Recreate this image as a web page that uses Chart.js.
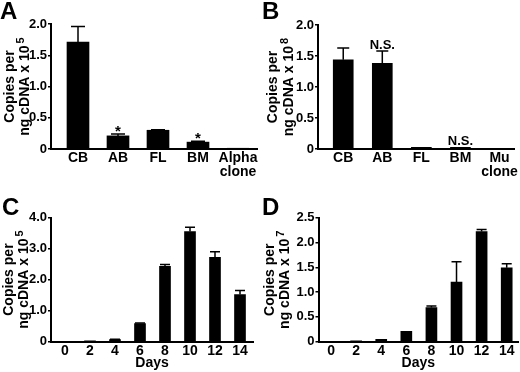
<!DOCTYPE html>
<html>
<head>
<meta charset="utf-8">
<script src="https://cdn.jsdelivr.net/npm/chart.js@4/dist/chart.umd.min.js"></script>
<style>
  body { margin: 0; background: #fff; }
  #wrap { position: relative; width: 520px; height: 372px; overflow: hidden; }
  canvas { position: absolute; }
  .tag { position: absolute; font: bold 24px "Liberation Sans", Arial, sans-serif; line-height: 24px; color: #000; }
</style>
</head>
<body>
<div id="wrap">
  <canvas id="chartA" width="260" height="186" style="left:0;top:0"></canvas>
  <canvas id="chartB" width="260" height="186" style="left:260px;top:0"></canvas>
  <canvas id="chartC" width="260" height="186" style="left:0;top:186px"></canvas>
  <canvas id="chartD" width="260" height="186" style="left:260px;top:186px"></canvas>
  <div class="tag" style="left:0;top:-1px">A</div>
  <div class="tag" style="left:262px;top:-1px">B</div>
  <div class="tag" style="left:2px;top:195px">C</div>
  <div class="tag" style="left:262px;top:195px">D</div>
</div>
<script>
// A: alpha copies by tissue
const tissueA = ["CB", "AB", "FL", "BM", ["Alpha", "clone"]];
const copiesA = [1.71, 0.21, 0.30, 0.11, 0.01];
const errTopA = [1.96, 0.24, 0.31, 0.125, 0];
const marksA = ["", "*", "", "*", ""];

// B: mu copies by tissue
const tissueB = ["CB", "AB", "FL", "BM", ["Mu", "clone"]];
const copiesB = [1.44, 1.38, 0.025, 0.025, 0];
const errTopB = [1.63, 1.58, 0, 0, 0];
const marksB = ["", "N.S.", "", "N.S.", ""];

// C, D: time course
const days = ["0", "2", "4", "6", "8", "10", "12", "14"];
const copiesC = [0, 0.02, 0.07, 0.58, 2.43, 3.55, 2.72, 1.52];
const errTopC = [0, 0, 0.08, 0.6, 2.49, 3.69, 2.9, 1.65];
const copiesD = [0, 0.015, 0.05, 0.21, 0.69, 1.2, 2.22, 1.49];
const errTopD = [0, 0, 0, 0, 0.72, 1.61, 2.26, 1.57];
const noMarks = ["", "", "", "", "", "", "", ""];

const yTicksAB = [0, 0.5, 1, 1.5, 2];
const yTicksC = [0, 1, 2, 3, 4];
const yTicksD = [0, 0.5, 1, 1.5, 2, 2.5];

const FONT = "'Liberation Sans', Arial, sans-serif";
Chart.defaults.font.family = FONT;
Chart.defaults.font.weight = "bold";
Chart.defaults.color = "#000";

// upper error bars + significance marks
const errorBars = {
  id: "errorBars",
  afterDatasetsDraw(chart, args, opts) {
    const { ctx, scales: { x, y } } = chart;
    ctx.save();
    ctx.strokeStyle = "#000";
    ctx.lineWidth = 1.5;
    opts.errs.forEach((e, i) => {
      const v = opts.values[i];
      if (e > v) {
        const px = x.getPixelForValue(i);
        const y0 = y.getPixelForValue(v);
        const y1 = y.getPixelForValue(e);
        ctx.beginPath();
        ctx.moveTo(px, y0);
        ctx.lineTo(px, y1);
        ctx.moveTo(px - opts.capW / 2, y1);
        ctx.lineTo(px + opts.capW / 2, y1);
        ctx.stroke();
      }
    });
    ctx.fillStyle = "#000";
    ctx.textAlign = "center";
    ctx.textBaseline = "alphabetic";
    opts.marks.forEach((m, i) => {
      if (!m) return;
      const px = x.getPixelForValue(i);
      const top = y.getPixelForValue(Math.max(opts.errs[i], opts.values[i]));
      if (m === "*") {
        ctx.font = "bold 15px " + FONT;
        ctx.fillText(m, px, top + 1.5);
      } else {
        ctx.font = "bold 13px " + FONT;
        ctx.fillText(m, px, top - 2.5);
      }
    });
    ctx.restore();
  },
};

// two-line rotated y title with a real superscript
const yTitle = {
  id: "yTitle",
  afterDraw(chart, args, o) {
    const { ctx, chartArea } = chart;
    const cy = (chartArea.top + chartArea.bottom) / 2;
    const base = "bold 14px " + FONT;
    const sup = "bold 11px " + FONT;
    ctx.save();
    ctx.fillStyle = "#000";
    ctx.textBaseline = "middle";
    ctx.font = base;
    ctx.save();
    ctx.translate(o.x1, cy);
    ctx.rotate(-Math.PI / 2);
    ctx.textAlign = "center";
    ctx.fillText(o.line1, 0, 0);
    ctx.restore();
    ctx.translate(o.x2, cy);
    ctx.rotate(-Math.PI / 2);
    ctx.textAlign = "left";
    const w1 = ctx.measureText(o.line2).width;
    ctx.font = sup;
    const w2 = ctx.measureText(o.exp).width;
    const start = -(w1 + 2 + w2) / 2;
    ctx.font = base;
    ctx.fillText(o.line2, start, 0);
    ctx.font = sup;
    ctx.fillText(o.exp, start + w1 + 2, -4.5);
    ctx.restore();
  },
};

function fmt(v) {
  return v === 0 ? "0" : v.toFixed(1);
}

function makePanel(id, p) {
  new Chart(document.getElementById(id), {
    type: "bar",
    data: {
      datasets: [
        {
          data: p.values.map((v, i) => ({ x: i, y: v })),
          backgroundColor: "#000",
          borderWidth: 0,
          barThickness: p.barW,
        },
      ],
    },
    options: {
      responsive: false,
      animation: false,
      devicePixelRatio: 1,
      layout: { padding: { left: 0, top: p.area.top, right: 260 - p.area.right, bottom: 0 } },
      plugins: {
        legend: { display: false },
        tooltip: { enabled: false },
        errorBars: { values: p.values, errs: p.errs, marks: p.marks, capW: p.capW },
        yTitle: { line1: "Copies per", line2: "ng cDNA x 10", exp: p.exp, x1: p.titleX[0], x2: p.titleX[1] },
      },
      scales: {
        x: {
          type: "linear",
          offset: false,
          min: p.xMin,
          max: p.xMax,
          afterBuildTicks: (s) => { s.ticks = p.labels.map((_, i) => ({ value: i })); },
          afterFit: (s) => { s.height = 186 - p.area.bottom; },
          ticks: {
            autoSkip: false,
            maxRotation: 0,
            padding: 2,
            font: { size: 14, weight: "bold", lineHeight: 1.0 },
            callback: (v) => p.labels[Math.round(v)],
          },
          grid: { display: false, drawTicks: false },
          border: { color: "#000", width: 2 },
          title: {
            display: !!p.xTitle,
            text: p.xTitle,
            font: { size: 14, weight: "bold", lineHeight: 1.2 },
            padding: { top: 0, bottom: 0 },
          },
        },
        y: {
          min: 0,
          max: p.yTicks[p.yTicks.length - 1],
          afterBuildTicks: (s) => { s.ticks = p.yTicks.map((v) => ({ value: v })); },
          afterFit: (s) => { s.width = p.area.left; },
          ticks: { padding: 1, font: { size: 13, weight: "bold" }, callback: fmt },
          grid: { drawOnChartArea: false, color: "#000", tickLength: 3, lineWidth: 1.5 },
          border: { color: "#000", width: 2 },
        },
      },
    },
    plugins: [errorBars, yTitle],
  });
}

makePanel("chartA", {
  labels: tissueA, values: copiesA, errs: errTopA, marks: marksA, yTicks: yTicksAB,
  xMin: -0.675, xMax: 4.475, barW: 22, capW: 14,
  area: { left: 51, top: 24, right: 257, bottom: 149 },
  exp: "5", titleX: [10, 25],
});
makePanel("chartB", {
  labels: tissueB, values: copiesB, errs: errTopB, marks: marksB, yTicks: yTicksAB,
  xMin: -0.646, xMax: 4.39, barW: 20, capW: 12,
  area: { left: 58, top: 25, right: 257, bottom: 149 },
  exp: "8", titleX: [13.5, 29],
});
makePanel("chartC", {
  labels: days, values: copiesC, errs: errTopC, marks: noMarks, yTicks: yTicksC,
  xMin: -0.56, xMax: 7.52, barW: 11, capW: 10,
  area: { left: 51, top: 31.5, right: 253, bottom: 155.7 },
  exp: "5", titleX: [9.5, 24], xTitle: "Days",
});
makePanel("chartD", {
  labels: days, values: copiesD, errs: errTopD, marks: noMarks, yTicks: yTicksD,
  xMin: -0.5, xMax: 7.45, barW: 11, capW: 10,
  area: { left: 58.5, top: 31.7, right: 258, bottom: 155.7 },
  exp: "7", titleX: [10.5, 25.5], xTitle: "Days",
});
</script>
</body>
</html>
